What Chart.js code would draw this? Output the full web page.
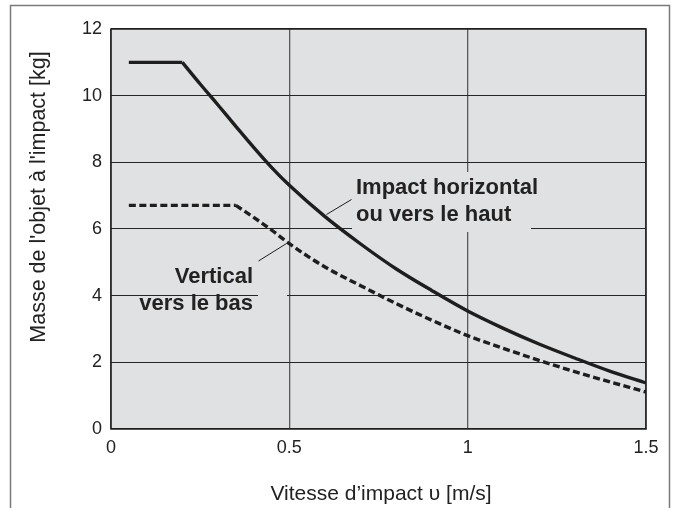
<!DOCTYPE html>
<html>
<head>
<meta charset="utf-8">
<script src="https://cdn.jsdelivr.net/npm/chart.js@4/dist/chart.umd.min.js"></script>
<style>
  html, body { margin: 0; padding: 0; background: #ffffff; }
  canvas { display: block; }
</style>
</head>
<body>
<canvas id="chart" width="674" height="508"></canvas>
<script>
// Impact speed (m/s) against permissible mass of the impacting object (kg)
const horizontalFlatX = [0.05, 0.2];
const horizontalFlatY = [11, 11];
const horizontalX = [0.2, 0.25, 0.3, 0.35, 0.4, 0.45, 0.5, 0.6, 0.7, 0.8, 0.9, 1.0, 1.1, 1.2, 1.3, 1.4, 1.5];
const horizontalY = [11, 10.35, 9.72, 9.08, 8.45, 7.85, 7.31, 6.37, 5.55, 4.8, 4.15, 3.54, 3.02, 2.55, 2.13, 1.73, 1.38];

const verticalFlatX = [0.05, 0.35];
const verticalFlatY = [6.71, 6.71];
const verticalX = [0.35, 0.4, 0.45, 0.5, 0.6, 0.7, 0.8, 0.9, 1.0, 1.1, 1.2, 1.3, 1.4, 1.5];
const verticalY = [6.71, 6.35, 5.97, 5.56, 4.86, 4.3, 3.76, 3.26, 2.8, 2.42, 2.06, 1.72, 1.41, 1.11];

const xTickValues = [0, 0.5, 1, 1.5];
const xTickLabels = ['0', '0.5', '1', '1.5'];
const yTickValues = [0, 2, 4, 6, 8, 10, 12];
const yTickLabels = ['0', '2', '4', '6', '8', '10', '12'];

const xTitle = 'Vitesse d\u2019impact \u03c5 [m/s]';
const yTitle = 'Masse de l\'objet \u00e0 l\'impact [kg]';
const labelHorizontal = ['Impact horizontal', 'ou vers le haut'];
const labelVertical = ['Vertical', 'vers le bas'];

const toPoints = (xs, ys) => xs.map((x, i) => ({ x: x, y: ys[i] }));

const INK = '#1e1e1e';
const PLOT_BG = '#e0e1e3';
const FONT = '"Liberation Sans", Arial, Helvetica, sans-serif';

const solidStyle = {
  borderColor: INK, borderWidth: 3.4, pointRadius: 0, showLine: true, fill: false
};
const dashedStyle = {
  borderColor: INK, borderWidth: 3.4, pointRadius: 0, showLine: true, fill: false,
  borderDash: [7, 3.5]
};

const decorations = {
  id: 'decorations',
  beforeDraw(chart) {
    const ctx = chart.ctx;
    const a = chart.chartArea;
    ctx.save();
    ctx.fillStyle = '#ffffff';
    ctx.fillRect(0, 0, chart.width, chart.height);
    // outer frame
    ctx.strokeStyle = '#7b7b7b';
    ctx.lineWidth = 1.5;
    ctx.strokeRect(10.5, 5.5, 659, 530);
    // plot background
    ctx.fillStyle = PLOT_BG;
    ctx.fillRect(a.left, a.top, a.right - a.left, a.bottom - a.top);
    ctx.restore();
  },
  beforeDatasetsDraw(chart) {
    const ctx = chart.ctx;
    ctx.save();
    // clear grid behind the annotation text
    ctx.fillStyle = PLOT_BG;
    ctx.fillRect(352, 172, 179, 60);
    ctx.fillRect(258, 290, 29, 10);
    ctx.restore();
  },
  afterDatasetsDraw(chart) {
    const ctx = chart.ctx;
    const a = chart.chartArea;
    ctx.save();
    // plot border
    ctx.strokeStyle = INK;
    ctx.lineWidth = 1.5;
    ctx.strokeRect(a.left, a.top, a.right - a.left, a.bottom - a.top);
    // leader lines
    ctx.lineWidth = 1;
    ctx.beginPath();
    ctx.moveTo(351.5, 199.5);
    ctx.lineTo(326.5, 214.5);
    ctx.moveTo(258.5, 261);
    ctx.lineTo(286.5, 243.5);
    ctx.stroke();
    // annotation text
    ctx.fillStyle = '#222222';
    ctx.font = 'bold 22px ' + FONT;
    ctx.textBaseline = 'middle';
    ctx.textAlign = 'left';
    ctx.fillText(labelHorizontal[0], 356, 188);
    ctx.fillText(labelHorizontal[1], 356, 215);
    ctx.textAlign = 'right';
    ctx.fillText(labelVertical[0], 253, 277);
    ctx.fillText(labelVertical[1], 253, 304);
    // axis titles
    ctx.font = '21px ' + FONT;
    ctx.textAlign = 'center';
    ctx.fillText(xTitle, 381, 494);
    ctx.translate(39, 197);
    ctx.rotate(-Math.PI / 2);
    ctx.font = '21.5px ' + FONT;
    ctx.fillText(yTitle, 0, 0);
    ctx.restore();
  }
};

new Chart(document.getElementById('chart'), {
  type: 'scatter',
  data: {
    datasets: [
      Object.assign({ data: toPoints(horizontalFlatX, horizontalFlatY) }, solidStyle),
      Object.assign({ data: toPoints(horizontalX, horizontalY), cubicInterpolationMode: 'monotone' }, solidStyle),
      Object.assign({ data: toPoints(verticalFlatX, verticalFlatY) }, dashedStyle),
      Object.assign({ data: toPoints(verticalX, verticalY), cubicInterpolationMode: 'monotone' }, dashedStyle)
    ]
  },
  options: {
    responsive: false,
    animation: false,
    devicePixelRatio: 1,
    layout: { padding: { left: 0, right: 28, top: 29, bottom: 0 } },
    plugins: { legend: { display: false }, tooltip: { enabled: false }, title: { display: false } },
    scales: {
      x: {
        type: 'linear', min: 0, max: 1.5,
        afterFit(scale) { scale.height = 79; },
        afterBuildTicks(scale) { scale.ticks = xTickValues.map(v => ({ value: v })); },
        ticks: {
          color: '#222222', font: { family: FONT, size: 18 }, padding: 8, maxRotation: 0,
          callback: (v) => xTickLabels[xTickValues.indexOf(v)]
        },
        grid: { color: '#5a5a5a', lineWidth: 1.3, drawTicks: false },
        border: { display: false }
      },
      y: {
        type: 'linear', min: 0, max: 12,
        afterFit(scale) { scale.width = 111; },
        afterBuildTicks(scale) { scale.ticks = yTickValues.map(v => ({ value: v })); },
        ticks: {
          color: '#222222', font: { family: FONT, size: 18 }, padding: 9,
          callback: (v) => yTickLabels[yTickValues.indexOf(v)]
        },
        grid: { color: '#262626', lineWidth: 1.1, drawTicks: false },
        border: { display: false }
      }
    }
  },
  plugins: [decorations]
});
</script>
</body>
</html>
